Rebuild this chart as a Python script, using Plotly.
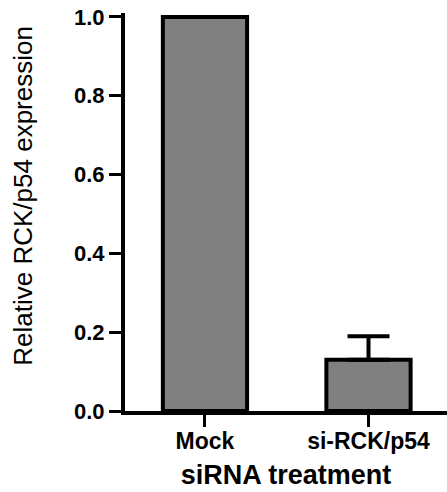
import math
import plotly.graph_objects as go

categories = ["Mock", "si-RCK/p54"]
values = [1.0, 0.13]
errors_plus = [math.nan, 0.06]
errors_minus = [math.nan, 0.0]
y_ticks = [0.0, 0.2, 0.4, 0.6, 0.8, 1.0]
y_title = "Relative RCK/p54 expression"
x_title = "siRNA treatment"

FONT = "Liberation Sans, Arial, sans-serif"

fig = go.Figure()
fig.add_trace(go.Bar(
    x=categories,
    y=values,
    width=0.515,
    marker=dict(color="#808080", line=dict(color="black", width=4)),
    error_y=dict(type="data", symmetric=False, array=errors_plus,
                 arrayminus=errors_minus, color="black", thickness=4, width=21),
))

fig.update_layout(
    width=447, height=492,
    margin=dict(l=125, r=0, t=13, b=81),
    plot_bgcolor="white", paper_bgcolor="white",
    showlegend=False,
    xaxis=dict(
        range=[-0.489, 1.48],
        showline=True, linewidth=4, linecolor="black",
        ticks="outside", ticklen=12, tickwidth=3, tickcolor="black",
        ticklabelstandoff=-6,
        tickfont=dict(family=FONT, size=23, color="black", weight="bold"),
        showgrid=False, zeroline=False,
        title=dict(text=x_title, font=dict(family=FONT, size=27, color="black", weight="bold"), standoff=14),
    ),
    yaxis=dict(
        range=[0, 1.01],
        tickvals=y_ticks, tickformat=".1f",
        showline=True, linewidth=4, linecolor="black",
        ticks="outside", ticklen=12, tickwidth=3, tickcolor="black",
        tickfont=dict(family=FONT, size=22, color="black", weight="bold"),
        showgrid=False, zeroline=False,
    ),
    annotations=[dict(
        text=y_title, textangle=-90, xref="paper", yref="paper",
        x=-0.318, y=0.54, xanchor="center", yanchor="middle", showarrow=False,
        font=dict(family=FONT, size=26, color="black"),
    )],
)

fig.write_html("out.html")
